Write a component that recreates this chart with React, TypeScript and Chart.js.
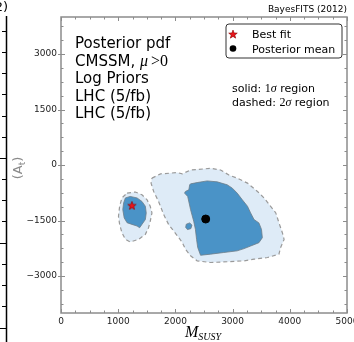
import React, { useEffect, useRef } from "react";
import { Chart, registerables } from "chart.js";
Chart.register(...registerables);

// axis ticks
const xTickValues = [0, 1000, 2000, 3000, 4000, 5000];
const yTickValues = [-3000, -1500, 0, 1500, 3000];

// 2 sigma (dashed) regions
const bigOuter: [number, number][] = [
  [1590, -355], [1740, -240], [2030, -205], [2120, -240], [2265, -135], [2615, -90], [2790, -135],
  [2935, -270], [3080, -355], [3260, -490], [3435, -715], [3550, -890], [3665, -1115], [3755, -1295],
  [3810, -1560], [3870, -1830], [3900, -2010], [3840, -2230], [3810, -2410], [3610, -2500],
  [3375, -2545], [3200, -2590], [2905, -2615], [2615, -2635], [2380, -2590], [2265, -2455],
  [2175, -2275], [2120, -2095], [2060, -1965], [1970, -1785], [1880, -1605], [1795, -1340],
  [1705, -985], [1620, -715], [1575, -490],
];
const smallOuter: [number, number][] = [
  [1155, -760], [1300, -730], [1415, -805], [1505, -940], [1560, -1115], [1590, -1295], [1560, -1520],
  [1530, -1695], [1475, -1875], [1355, -2010], [1210, -2080], [1125, -2010], [1065, -1830],
  [1025, -1605], [1005, -1385], [1025, -1115], [1065, -890],
];

// 1 sigma (solid) regions
const bigInner: [number, number][] = [
  [2265, -510], [2380, -475], [2555, -430], [2730, -455], [2905, -535], [2995, -625], [3080, -760],
  [3170, -940], [3260, -1115], [3315, -1295], [3375, -1475], [3460, -1565], [3505, -1740],
  [3520, -1965], [3460, -2100], [3315, -2190], [3200, -2260], [3080, -2320], [2845, -2365],
  [2615, -2410], [2440, -2440], [2390, -2230], [2370, -2010], [2350, -1740], [2320, -1520],
  [2265, -1205], [2215, -850], [2160, -760], [2175, -715], [2235, -670], [2250, -535],
];
const smallInner: [number, number][] = [
  [1125, -890], [1210, -850], [1330, -890], [1415, -985], [1475, -1115], [1490, -1295], [1475, -1475],
  [1415, -1605], [1375, -1695], [1330, -1650], [1240, -1605], [1155, -1560], [1105, -1430],
  [1080, -1205], [1095, -1025],
];
const tinyInner: [number, number][] = [
  [2190, -1600], [2250, -1565], [2290, -1625], [2270, -1720], [2210, -1745], [2180, -1680],
];

const bestFit = { x: 1240, y: -1090 };
const posteriorMean = { x: 2530, y: -1460 };

const LIGHT = "#deebf7";
const DARK = "#4a93c7";

function poly(pts: [number, number][]) {
  return [...pts, pts[0]].map(([x, y]) => ({ x, y }));
}

function fmt(v: number) {
  return v < 0 ? "\u2212" + Math.abs(v) : String(v);
}

function drawStar(g: CanvasRenderingContext2D, cx: number, cy: number, R: number) {
  const r = R * 0.42;
  g.beginPath();
  for (let i = 0; i < 10; i++) {
    const a = -Math.PI / 2 + (i * Math.PI) / 5;
    const rad = i % 2 ? r : R;
    g.lineTo(cx + rad * Math.cos(a), cy + rad * Math.sin(a));
  }
  g.closePath();
  g.fillStyle = "#e8141b";
  g.fill();
  g.strokeStyle = "#8b0000";
  g.lineWidth = 0.6;
  g.stroke();
}

function makeStar(size: number) {
  const c = document.createElement("canvas");
  c.width = size;
  c.height = size;
  const g = c.getContext("2d")!;
  drawStar(g, size / 2, size / 2 + 0.5, size / 2 - 0.5);
  return c;
}

const decorations = {
  id: "decorations",
  afterDraw(chart: any) {
    const ctx: CanvasRenderingContext2D = chart.ctx;
    const xs = chart.scales.x;
    const ys = chart.scales.y;
    const { left, right, top, bottom } = chart.chartArea;
    ctx.save();

    // ticks
    ctx.strokeStyle = "#8c8c8c";
    ctx.lineWidth = 1;
    for (let v = 0; v <= 5000; v += 250) {
      const px = Math.round(xs.getPixelForValue(v)) + 0.5;
      const len = v % 1000 === 0 ? 4 : 2.5;
      ctx.beginPath();
      ctx.moveTo(px, bottom);
      ctx.lineTo(px, bottom - len);
      ctx.moveTo(px, top);
      ctx.lineTo(px, top + len);
      ctx.stroke();
    }
    for (let v = -3750; v <= 3750; v += 375) {
      const py = Math.round(ys.getPixelForValue(v)) + 0.5;
      const major = yTickValues.includes(v);
      const len = major ? 4 : 2.5;
      ctx.beginPath();
      ctx.moveTo(major ? left - 3 : left, py);
      ctx.lineTo(left + len, py);
      ctx.moveTo(right, py);
      ctx.lineTo(right - len, py);
      ctx.stroke();
    }
    // frame
    ctx.lineWidth = 1.5;
    ctx.strokeStyle = "#8c8c8c";
    ctx.strokeRect(left, top, right - left, bottom - top);

    // neighbouring panel edge
    ctx.strokeStyle = "#000";
    ctx.lineWidth = 1.5;
    ctx.beginPath();
    ctx.moveTo(6.5, 16);
    ctx.lineTo(6.5, 342);
    ctx.stroke();
    ctx.lineWidth = 1;
    for (let i = 0; i < 15; i++) {
      const py = Math.round(30.7 + 21.2 * i) + 0.5;
      const long = i === 6 || i === 10 || i === 14;
      ctx.beginPath();
      ctx.moveTo(long ? 0 : 2, py);
      ctx.lineTo(6.5, py);
      ctx.stroke();
    }
    ctx.fillStyle = "#000";
    ctx.font = '13px "DejaVu Sans"';
    ctx.textAlign = "right";
    ctx.textBaseline = "alphabetic";
    ctx.fillText("2)", 8, 11);

    // y label (rotated)
    ctx.save();
    ctx.translate(22, 168);
    ctx.rotate(-Math.PI / 2);
    ctx.fillStyle = "#8a8a8a";
    ctx.textAlign = "left";
    ctx.font = '13px "DejaVu Sans"';
    const w1 = ctx.measureText("(A").width;
    ctx.font = '9px "DejaVu Sans"';
    const w2 = ctx.measureText("t").width;
    ctx.font = '13px "DejaVu Sans"';
    const w3 = ctx.measureText(")").width;
    let sx = -(w1 + w2 + w3) / 2;
    ctx.fillText("(A", sx, 0);
    sx += w1;
    ctx.font = '9px "DejaVu Sans"';
    ctx.fillText("t", sx, 2.5);
    sx += w2;
    ctx.font = '13px "DejaVu Sans"';
    ctx.fillText(")", sx, 0);
    ctx.restore();

    // x label
    ctx.fillStyle = "#000";
    ctx.textAlign = "left";
    ctx.font = 'italic 16px "Liberation Serif"';
    ctx.fillText("M", 185, 337);
    const mw = ctx.measureText("M").width;
    ctx.font = 'italic 10px "Liberation Serif"';
    ctx.fillText("SUSY", 185 + mw, 340);

    // top-left block
    ctx.font = '15px "DejaVu Sans"';
    ctx.fillText("Posterior pdf", 75, 48);
    ctx.fillText("CMSSM, ", 75, 65.6);
    let cx = 75 + ctx.measureText("CMSSM, ").width;
    ctx.font = 'italic 16px "Liberation Serif"';
    ctx.fillText("\u03bc", cx, 65.6);
    cx += ctx.measureText("\u03bc").width + 3;
    ctx.font = '16px "Liberation Serif"';
    ctx.fillText(">0", cx, 65.6);
    ctx.font = '15px "DejaVu Sans"';
    ctx.fillText("Log Priors", 75, 83.2);
    ctx.fillText("LHC (5/fb)", 75, 100.8);
    ctx.fillText("LHC (5/fb)", 75, 118.4);

    // legend box
    const bx = 226, by = 24, bw = 116, bh = 34, rr = 3;
    ctx.beginPath();
    ctx.moveTo(bx + rr, by);
    ctx.arcTo(bx + bw, by, bx + bw, by + bh, rr);
    ctx.arcTo(bx + bw, by + bh, bx, by + bh, rr);
    ctx.arcTo(bx, by + bh, bx, by, rr);
    ctx.arcTo(bx, by, bx + bw, by, rr);
    ctx.closePath();
    ctx.fillStyle = "#fff";
    ctx.fill();
    ctx.strokeStyle = "#333";
    ctx.lineWidth = 1;
    ctx.stroke();
    drawStar(ctx, 233, 34.5, 4.5);
    ctx.beginPath();
    ctx.arc(233, 48.5, 3.3, 0, Math.PI * 2);
    ctx.fillStyle = "#000";
    ctx.fill();
    ctx.font = '11px "DejaVu Sans"';
    ctx.fillText("Best fit", 252, 38.3);
    ctx.fillText("Posterior mean", 252, 53);

    // region annotation
    const sigmaLine = (pre: string, num: string, y: number) => {
      let x = 232;
      ctx.font = '11px "DejaVu Sans"';
      ctx.fillText(pre, x, y);
      x += ctx.measureText(pre).width;
      ctx.font = '12px "Liberation Serif"';
      ctx.fillText(num, x, y);
      x += ctx.measureText(num).width;
      ctx.font = 'italic 12px "Liberation Serif"';
      ctx.fillText("\u03c3", x, y);
      x += ctx.measureText("\u03c3").width;
      ctx.font = '11px "DejaVu Sans"';
      ctx.fillText(" region", x, y);
    };
    sigmaLine("solid: ", "1", 91.7);
    sigmaLine("dashed: ", "2", 106);

    // credit
    ctx.font = '9px "DejaVu Sans"';
    ctx.textAlign = "right";
    ctx.fillText("BayesFITS (2012)", 347, 12);

    ctx.restore();
  },
};

export default function App() {
  const ref = useRef<HTMLCanvasElement>(null);
  useEffect(() => {
    const canvas = ref.current!;
    const star = makeStar(10);
    const outerStyle = {
      showLine: true,
      fill: "shape",
      backgroundColor: LIGHT,
      borderColor: "#9a9a9a",
      borderWidth: 1.2,
      borderDash: [4, 3],
      pointRadius: 0,
      tension: 0,
      order: 5,
    };
    const innerStyle = {
      showLine: true,
      fill: "shape",
      backgroundColor: DARK,
      borderColor: "#6c7c88",
      borderWidth: 0.8,
      pointRadius: 0,
      tension: 0,
      order: 4,
    };
    const chart = new Chart(canvas, {
      type: "scatter",
      data: {
        datasets: [
          { ...outerStyle, data: poly(bigOuter) },
          { ...outerStyle, data: poly(smallOuter) },
          { ...innerStyle, data: poly(bigInner) },
          { ...innerStyle, data: poly(smallInner) },
          { ...innerStyle, data: poly(tinyInner) },
          { data: [bestFit], pointStyle: star, pointRadius: 5, order: 1 },
          {
            data: [posteriorMean],
            pointStyle: "circle",
            pointRadius: 4,
            backgroundColor: "#000",
            borderColor: "#000",
            order: 1,
          },
        ] as any,
      },
      options: {
        responsive: false,
        animation: false,
        devicePixelRatio: 1,
        events: [],
        layout: { padding: { left: 0, top: 17, right: 7, bottom: 0 } },
        plugins: { legend: { display: false }, tooltip: { enabled: false } },
        scales: {
          x: {
            type: "linear",
            min: 0,
            max: 5000,
            grid: { display: false, drawTicks: false },
            border: { display: false },
            ticks: {
              font: { family: "DejaVu Sans", size: 9 },
              color: "#222",
              padding: 3,
              maxRotation: 0,
              autoSkip: false,
              callback: (v: any) => fmt(Number(v)),
            },
            afterBuildTicks: (s: any) => {
              s.ticks = xTickValues.map((value) => ({ value }));
            },
            afterFit: (s: any) => {
              s.height = 29;
              s.paddingLeft = 0;
              s.paddingRight = 0;
            },
          },
          y: {
            type: "linear",
            min: -4000,
            max: 4000,
            grid: { display: false, drawTicks: false },
            border: { display: false },
            ticks: {
              font: { family: "DejaVu Sans", size: 9 },
              color: "#222",
              padding: 4,
              autoSkip: false,
              callback: (v: any) => fmt(Number(v)),
            },
            afterBuildTicks: (s: any) => {
              s.ticks = yTickValues.map((value) => ({ value }));
            },
            afterFit: (s: any) => {
              s.width = 61;
              s.paddingTop = 0;
              s.paddingBottom = 0;
            },
          },
        },
      },
      plugins: [decorations],
    } as any);
    return () => chart.destroy();
  }, []);
  return (
    <div style={{ position: "absolute", left: 0, top: 0, width: 354, height: 342, background: "#fff" }}>
      <canvas ref={ref} width={354} height={342} style={{ display: "block", width: 354, height: 342 }} />
    </div>
  );
}
